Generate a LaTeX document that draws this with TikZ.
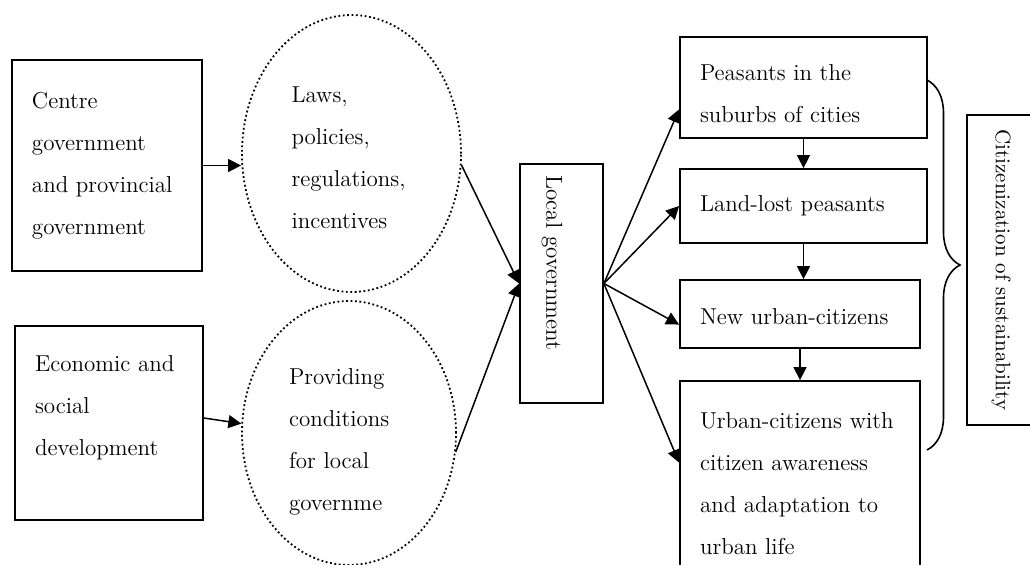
\documentclass[tikz,border=0pt]{standalone}
\usepackage{fontspec}
\usetikzlibrary{arrows.meta,shapes.geometric,decorations.pathreplacing}

\begin{document}
\begin{tikzpicture}
 [
  x=0.5pt,y=-0.5pt,
  every node/.style={font=\fontsize{11.5}{21}\selectfont},
  box/.style={draw,line width=0.9pt,align=left,inner xsep=10pt,inner ysep=0pt},
  oval/.style={ellipse,draw,line width=0.9pt,dash pattern=on 0.9pt off 1.3pt,inner sep=0pt,align=left,text width=60pt},
  vbox/.style={draw,line width=0.9pt,rotate=-90,inner ysep=0pt},
  link/.style={-{Triangle[length=6.5pt,width=6.5pt]},line width=0.75pt},
 ]
  \useasboundingbox (0,0) rectangle (1030,564);
  \clip (0,0) rectangle (1030,564);

  % sources and their means
  \node (centre) [box,text width=75pt,minimum height=105.5pt] at (107,165.5) {Centre\\government\\and provincial\\government};
  \node (econ) [box,text width=74pt,minimum height=97pt,text depth=59pt] at (109,423) {Economic and\\social\\development};
  \node (laws) [oval,minimum width=109.5pt,minimum height=138.5pt,text height=12.5pt] at (351.5,153.5) {Laws,\\policies,\\regulations,\\incentives};
  \node (cond) [oval,minimum width=107pt,minimum height=132pt,text height=17pt] at (349,433) {Providing\\conditions\\for local\\governme};

  % local government
  \node (local) [vbox,minimum width=119.5pt,minimum height=41.5pt,inner xsep=5.5pt,text width=108.5pt,align=left,text height=17.5pt] at (561.5,283.5) {Local government};

  % stages
  \node (suburb) [box,text width=103.5pt,minimum height=50.5pt,text height=14pt] at (803.5,87.5) {Peasants in the\\suburbs of cities};
  \node (landlost) [box,text width=103.5pt,minimum height=37pt] at (803.5,206) {Land-lost peasants};
  \node (newcit) [box,text width=100pt,minimum height=34pt,text height=11pt] at (800,314) {New urban-citizens};
  \node (urbcit) [box,text width=100pt,minimum height=103pt] at (800,484) {Urban-citizens with\\citizen awareness\\and adaptation to\\urban life};

  \node (citiz) [vbox,minimum width=155pt,minimum height=34pt,font=\fontsize{10.5}{14}\selectfont] at (1001,270) {Citizenization of sustainability};

  % arrows
  \draw [link] (centre.east) -- (centre.east -| laws.west);
  \draw [link] ([yshift=2.5pt]econ.east) -- (cond.175);
  \draw [link] (laws.-6) -- (local.south);
  \draw [link] (cond.-10) -- (local.south);

  \draw [link] (local.north) -- (suburb.190);
  \draw [link] (local.north) -- (landlost.west);
  \draw [link] (local.north) -- (newcit.185);
  \draw [link] (local.north) -- (urbcit.170);

  \draw [link] (suburb.south) -- (landlost.north);
  \draw [link] (landlost.south) -- (landlost.south |- newcit.north);
  \draw [link] (newcit.south) -- (urbcit.north);

  % brace
  \coordinate (bracetop) at (927,80);
  \coordinate (bracebot) at (927,450);
  \draw [line width=0.8pt,decorate,decoration={brace,amplitude=16.5pt}] (bracetop) -- (bracebot);
\end{tikzpicture}
\end{document}
